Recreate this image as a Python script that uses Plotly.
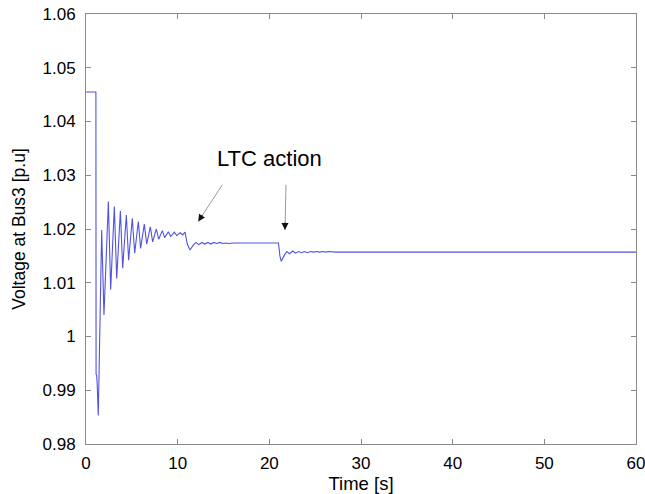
import plotly.graph_objects as go

time_s = [0, 1.08, 1.10, 1.16, 1.22, 1.34, 1.71, 1.96, 2.44, 2.69, 3.09, 3.35, 3.75, 4.00,
          4.40, 4.65, 5.05, 5.31, 5.71, 5.96, 6.36, 6.62, 7.02, 7.27, 7.67, 7.93, 8.33,
          8.58, 8.98, 9.24, 9.64, 9.89, 10.29, 10.55, 10.80, 11.05, 11.35, 11.70,
          12.00, 12.30, 12.65, 12.95, 13.30, 13.60, 13.95, 14.25, 14.60, 14.90, 15.25,
          15.55, 16.20, 21.00, 21.15, 21.30, 21.60, 21.90, 22.20, 22.55, 22.85, 23.20,
          23.50, 23.85, 24.15, 24.50, 24.80, 25.15, 25.50, 25.85, 26.15, 26.50, 27.20, 60]
voltage_pu = [1.0455, 1.0455, 0.9930, 0.9928, 0.9912, 0.9853, 1.0198, 1.0040, 1.0251, 1.0087,
              1.0242, 1.0108, 1.0234, 1.0127, 1.0226, 1.0142, 1.0220, 1.0155, 1.0214, 1.0164,
              1.0209, 1.0172, 1.0204, 1.0176, 1.0200, 1.0181, 1.0197, 1.0184, 1.0195, 1.0186,
              1.0194, 1.0188, 1.0193, 1.0189, 1.0194, 1.0172, 1.0161, 1.0170,
              1.0175, 1.0171, 1.0175, 1.0172, 1.0175, 1.0172, 1.0175, 1.0173, 1.0175, 1.0173,
              1.0174, 1.0173, 1.0174, 1.0174, 1.0150, 1.0140, 1.0150, 1.0158, 1.0154, 1.0159,
              1.0155, 1.0158, 1.0156, 1.0158, 1.0156, 1.0158, 1.0157, 1.0158, 1.0157, 1.0158,
              1.0157, 1.0158, 1.0157, 1.0157]

x_ticks = [0, 10, 20, 30, 40, 50, 60]
y_ticks = [0.98, 0.99, 1.00, 1.01, 1.02, 1.03, 1.04, 1.05, 1.06]
y_tick_labels = ["0.98", "0.99", "1", "1.01", "1.02", "1.03", "1.04", "1.05", "1.06"]

annotation_text = "LTC action"
arrow_heads = [(12.25, 1.0214), (21.71, 1.0198)]
arrow_tails = [(14.98, 1.0285), (21.82, 1.0285)]
text_pos = (20.07, 1.0332)

FONT = "Arial, Liberation Sans"

fig = go.Figure()
fig.add_trace(go.Scatter(x=time_s, y=voltage_pu, mode="lines",
                         line=dict(color="#5252e0", width=1.1), showlegend=False))

for (hx, hy), (tx, ty) in zip(arrow_heads, arrow_tails):
    # light grey shaft
    fig.add_annotation(x=hx, y=hy, ax=tx, ay=ty, xref="x", yref="y", axref="x", ayref="y",
                       text="", showarrow=True, arrowhead=0, arrowwidth=1,
                       arrowcolor="#9a9a9a")
    # dark head
    fig.add_annotation(x=hx, y=hy, ax=tx, ay=ty, xref="x", yref="y", axref="x", ayref="y",
                       text="", showarrow=True, arrowhead=2, arrowsize=1.4, arrowwidth=1,
                       arrowcolor="rgba(0,0,0,0)", opacity=1)

# black heads drawn as short arrows along the same direction
fig.add_annotation(x=arrow_heads[0][0], y=arrow_heads[0][1], ax=5, ay=-8, xref="x", yref="y",
                   text="", showarrow=True, arrowhead=2, arrowsize=1.4, arrowwidth=1,
                   arrowcolor="#111111")
fig.add_annotation(x=arrow_heads[1][0], y=arrow_heads[1][1], ax=0, ay=-9, xref="x", yref="y",
                   text="", showarrow=True, arrowhead=2, arrowsize=1.4, arrowwidth=1,
                   arrowcolor="#111111")

fig.add_annotation(x=text_pos[0], y=text_pos[1], xref="x", yref="y", text=annotation_text,
                   showarrow=False, font=dict(size=22, color="black", family=FONT))

axis_common = dict(showline=True, linecolor="#8a8a8a", linewidth=1, mirror="ticks",
                   ticks="inside", ticklen=5, tickcolor="#8a8a8a", showgrid=False, zeroline=False,
                   automargin=False, ticklabeloverflow="allow",
                   tickfont=dict(size=17, color="black", family=FONT))

fig.update_xaxes(range=[0, 60], tickvals=x_ticks, ticklabelstandoff=4,
                 title=dict(text="Time [s]", standoff=4,
                            font=dict(size=18.5, color="black", family=FONT)), **axis_common)
fig.update_yaxes(range=[0.98, 1.06], tickvals=y_ticks, ticktext=y_tick_labels,
                 ticklabelstandoff=6,
                 title=dict(text="Voltage at Bus3 [p.u]", standoff=12,
                            font=dict(size=17.5, color="black", family=FONT)),
                 **axis_common)

fig.update_layout(width=645, height=494, margin=dict(l=86, r=9, t=14, b=50),
                  plot_bgcolor="white", paper_bgcolor="white")

fig.write_html("out.html", config={"displayModeBar": False},
               post_script="document.body.style.margin='0';document.body.style.overflow='hidden';")
